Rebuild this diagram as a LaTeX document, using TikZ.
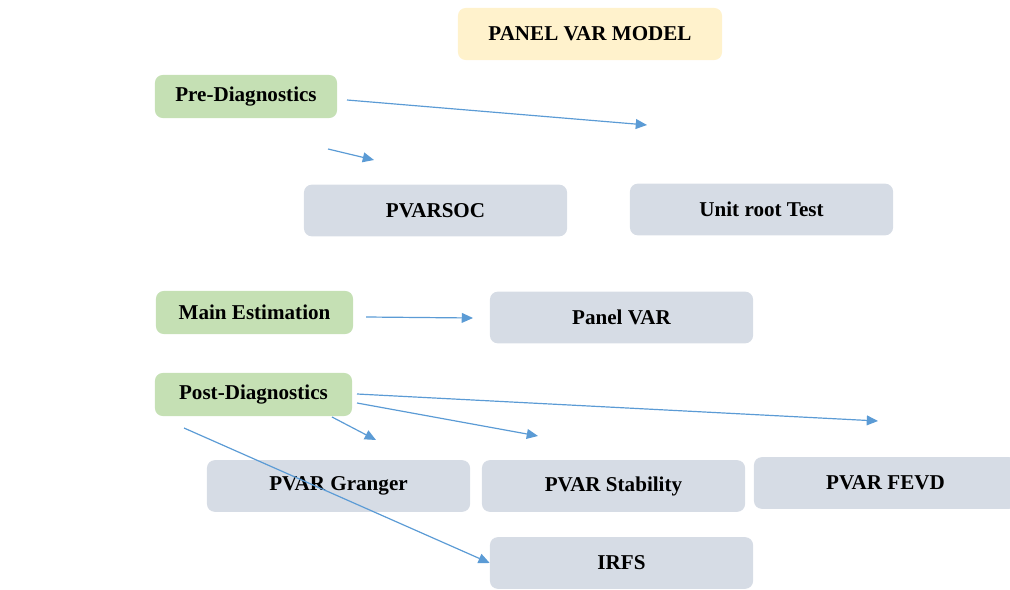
\documentclass[tikz,border=0pt]{standalone}
\usepackage{fontspec}
\setmainfont{Liberation Serif}
\usetikzlibrary{arrows.meta}
\usepackage{xcolor}
\definecolor{titlefill}{HTML}{FFF2CC}
\definecolor{stagefill}{HTML}{C5E0B4}
\definecolor{testfill}{HTML}{D6DCE5}
\definecolor{arrblue}{HTML}{5B9BD5}

\begin{document}
\begin{tikzpicture}[
        x=0.025cm, y=-0.025cm,
        basebox/.style={rectangle, rounded corners=5.5pt, draw=none, align=center, inner sep=0pt, font=\fontsize{15}{17}\selectfont\bfseries},
        titlebox/.style={basebox, fill=titlefill, minimum width=6.6cm, minimum height=1.3cm},
        stagebox/.style={basebox, fill=stagefill, minimum height=1.075cm},
        testbox/.style={basebox, fill=testfill, minimum width=6.575cm, minimum height=1.29cm},
        arr/.style={-{Triangle[length=8pt, width=7pt]}, line width=0.85pt, arrblue},
    ]
        \useasboundingbox (0,0) rectangle (1010,590);

        % Title
        \node[titlebox] (title) at (590,34) {PANEL VAR MODEL};

        % Stages
        \node[stagebox, minimum width=4.55cm] (pre) at (246,96.5) {Pre-Diagnostics};
        \node[stagebox, minimum width=4.925cm] (main) at (254.5,312.5) {Main Estimation};
        \node[stagebox, minimum width=4.925cm] (post) at (253.5,394.5) {Post-Diagnostics};

        % Tests
        \node[testbox] (pvarsoc) at (435.5,210.5) {PVARSOC};
        \node[testbox] (unitroot) at (761.5,209.5) {Unit root Test};
        \node[testbox] (panelvar) at (621.5,317.5) {Panel VAR};
        \node[testbox] (granger) at (338.5,486) {PVAR Granger};
        \node[testbox] (stability) at (613.5,486) {PVAR Stability};
        \node[testbox] (fevd) at (885.5,483) {PVAR FEVD};
        \node[testbox] (irfs) at (621.5,563) {IRFS};

        % Free arrow ends
        \coordinate (preA) at (347,100);
        \coordinate (preAend) at (647,125);
        \coordinate (preB) at (328,149);
        \coordinate (preBend) at (374,160);
        \coordinate (mainA) at (366,317);
        \coordinate (mainAend) at (473,318);
        \coordinate (postA) at (357,394);
        \coordinate (postAend) at (878,421);
        \coordinate (postB) at (357,403);
        \coordinate (postBend) at (538,436);
        \coordinate (postC) at (332,417);
        \coordinate (postCend) at (376,440);
        \coordinate (postD) at (184,428);

        % Arrows
        \draw[arr] (preA) -- (preAend);
        \draw[arr] (preB) -- (preBend);
        \draw[arr] (mainA) -- (mainAend);
        \draw[arr] (postA) -- (postAend);
        \draw[arr] (postB) -- (postBend);
        \draw[arr] (postC) -- (postCend);
        \draw[arr] (postD) -- (irfs.west);
    \end{tikzpicture}
\end{document}
